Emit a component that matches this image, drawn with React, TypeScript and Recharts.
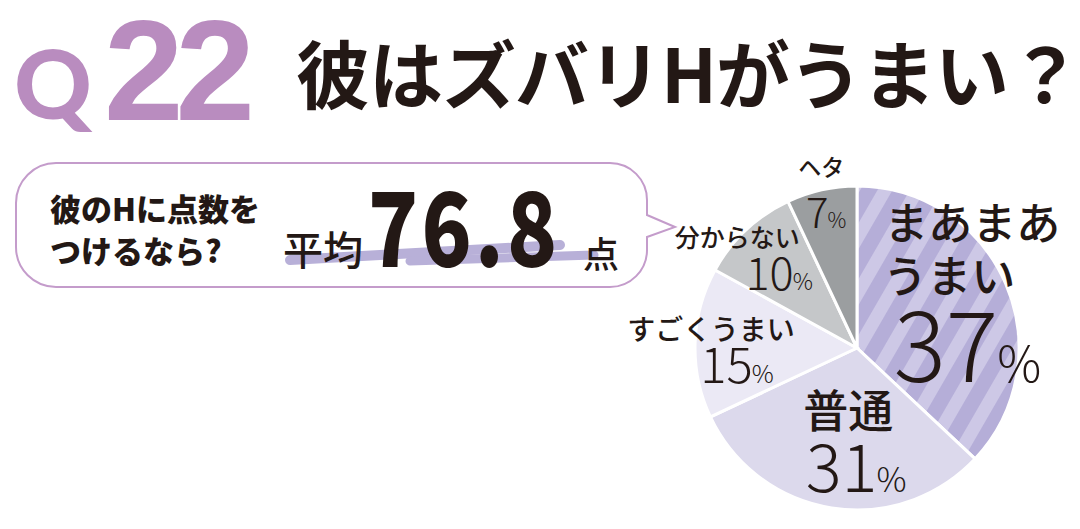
import { PieChart, Pie, Cell } from "recharts";

// survey answers, clockwise from 12 o'clock
const categories = ["まあまあうまい", "普通", "すごくうまい", "分からない", "ヘタ"];
const shares = [37, 31, 15, 10, 7];
const nameLines = [["まあまあ", "うまい"], ["普通"], ["すごくうまい"], ["分からない"], ["ヘタ"]];

const questionNo = "22";
const questionText = "彼はズバリHがうまい？";
const bubbleLines = ["彼のHに点数を", "つけるなら?"];
const averageScore = "76.8";

const data = categories.map((name, i) => ({ name, value: shares[i] }));

const FILLS = ["url(#stripe)", "#dcd9ec", "#ebe9f5", "#c5c7c9", "#9b9ea0"];

const INK = "#231815";
const PURPLE = "#b98cbf";
const JP = "'Noto Sans CJK JP', 'Noto Sans', sans-serif";

// label placement per slice: radius of anchor, offsets of name lines and number
const LABELS = [
    { r: 118, names: [[7, -80], [-16, -27]], nameSize: 44, num: [2, 81], numSize: 98 },
    { r: 95, names: [[6, -33]], nameSize: 45, num: [14, 50], numSize: 67 },
    { r: 130, names: [[-16, -16]], nameSize: 28, num: [10, 39], numSize: 49 },
    { r: 140, names: [[-24, -10]], nameSize: 25, num: [18, 44], numSize: 45 },
    { r: 150, names: [[-3, -36]], nameSize: 23, num: [2, 26], numSize: 42 },
];

const RADIAN = Math.PI / 180;

const renderLabel = ({ cx, cy, midAngle, index, value }: any) => {
    const cfg = LABELS[index];
    const x = cx + cfg.r * Math.cos(-midAngle * RADIAN);
    const y = cy + cfg.r * Math.sin(-midAngle * RADIAN);
    return (
        <g key={`lbl-${index}`}>
            {nameLines[index].map((line, j) => (
                <text
                    key={j}
                    x={x + cfg.names[j][0]}
                    y={y + cfg.names[j][1]}
                    textAnchor="middle"
                    dominantBaseline="central"
                    fontFamily={JP}
                    fontWeight={500}
                    fontSize={cfg.nameSize}
                    fill={INK}
                >
                    {line}
                </text>
            ))}
            <text
                x={x + cfg.num[0]}
                y={y + cfg.num[1]}
                textAnchor="middle"
                fontFamily={JP}
                fontWeight={300}
                fontSize={cfg.numSize}
                fill={INK}
            >
                {value}
                <tspan fontSize={cfg.numSize * 0.5} dx={-1}>%</tspan>
            </text>
        </g>
    );
};

const Header = () => (
    <svg width={1080} height={529} style={{ position: "absolute", left: 0, top: 0 }}>
        <defs>
            <pattern id="stripe" width={28} height={28} patternUnits="userSpaceOnUse" patternTransform="rotate(30)">
                <rect width={28} height={28} fill="#cdc8e6" />
                <rect width={15} height={28} fill="#b5aed8" />
            </pattern>
        </defs>

        {/* question number */}
        <text x={14} y={119} fontFamily="Lato, 'Liberation Sans', sans-serif" fontWeight={900} fontSize={96} fill={PURPLE}>
            Q
        </text>
        <text x={104} y={120} fontFamily="'Liberation Sans', Arial, sans-serif" fontWeight={700} fontSize={143}
            fill={PURPLE} letterSpacing={-8}>
            {questionNo}
        </text>
        <text x={296} y={103} fontFamily={JP} fontWeight={700} fontSize={74} fill={INK} textLength={786}>
            {questionText}
        </text>

        {/* speech bubble */}
        <path
            d="M 56 163 H 610 A 37 37 0 0 1 647 200 V 215 L 675 227 L 647 237 V 250 A 37 37 0 0 1 610 287 H 56 A 40 40 0 0 1 16 247 V 203 A 40 40 0 0 1 56 163 Z"
            fill="#fff"
            stroke="#c49ccb"
            strokeWidth={2}
        />
        {bubbleLines.map((line, i) => (
            <text key={i} x={50} y={207 + i * 42} dominantBaseline="central" fontFamily={JP} fontWeight={900}
                fontSize={31} fill={INK}>
                {line}
            </text>
        ))}
        <line x1={290} y1={260} x2={560} y2={245} stroke="#b8b0d8" strokeWidth={10} strokeLinecap="round" />
        <line x1={410} y1={261} x2={594} y2={255} stroke="#b8b0d8" strokeWidth={9} strokeLinecap="round" />
        <text x={283} y={248} dominantBaseline="central" fontFamily={JP} fontWeight={500} fontSize={40} fill={INK}>
            平均
        </text>
        <text transform="translate(368,267) scale(0.8,1)" fontFamily={JP} fontWeight={900} fontSize={103}
            fill={INK} letterSpacing={4}>
            {averageScore}
        </text>
        <text x={583} y={252} dominantBaseline="central" fontFamily={JP} fontWeight={500} fontSize={36} fill={INK}>
            点
        </text>
    </svg>
);

export default function App() {
    return (
        <div style={{ position: "absolute", left: 0, top: 0, width: 1080, height: 529, background: "#fff" }}>
            <Header />
            <div style={{ position: "absolute", left: 0, top: 0 }}>
                <PieChart width={1080} height={529} margin={{ top: 0, right: 0, bottom: 0, left: 0 }}>
                    <Pie
                        data={data}
                        dataKey="value"
                        nameKey="name"
                        cx={857}
                        cy={348}
                        outerRadius={162}
                        startAngle={90}
                        endAngle={-270}
                        stroke="#fff"
                        strokeWidth={3}
                        labelLine={false}
                        label={renderLabel}
                        isAnimationActive={false}
                    >
                        {data.map((entry, index) => (
                            <Cell key={`cell-${index}`} fill={FILLS[index]} />
                        ))}
                    </Pie>
                </PieChart>
            </div>
        </div>
    );
}
